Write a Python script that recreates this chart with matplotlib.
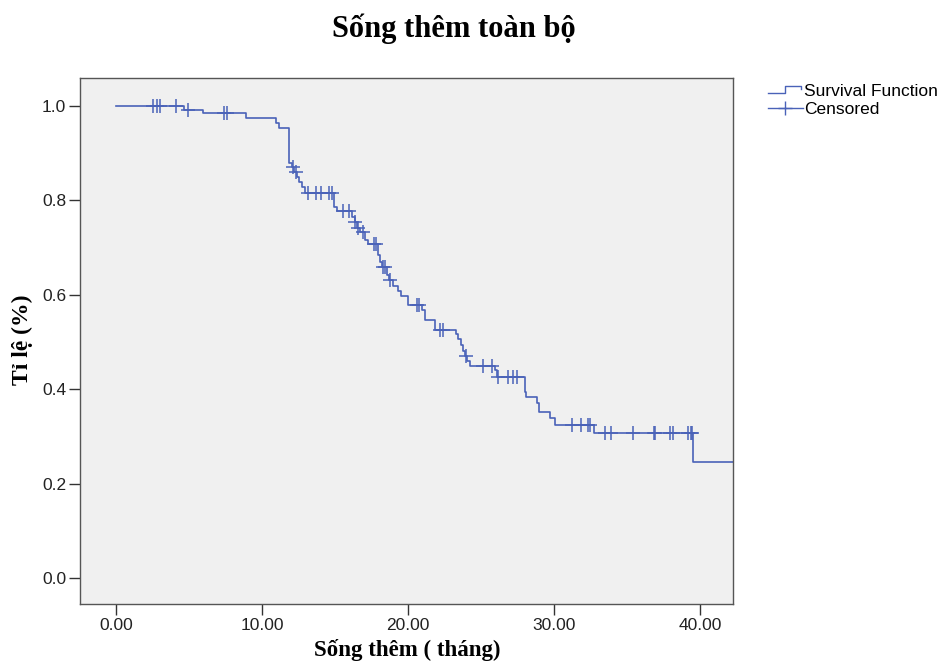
import numpy as np
import matplotlib
matplotlib.use("Agg")
import matplotlib.pyplot as plt
from matplotlib.legend_handler import HandlerBase
from matplotlib.lines import Line2D
from matplotlib.ticker import FormatStrFormatter

# Kaplan-Meier: event times (months) and survival after each event
event_t = [4.66, 5.96, 8.90, 10.96, 11.16, 11.85, 12.05, 12.19, 12.40, 12.53,
           12.74, 12.95, 14.93, 15.14, 16.16, 16.37, 16.51, 16.71, 17.05, 17.26,
           17.95, 18.08, 18.22, 18.56, 18.70, 18.97, 19.32, 19.52, 20.00, 20.96,
           21.16, 21.85, 23.29, 23.42, 23.63, 23.77, 23.90, 24.04, 24.25, 25.96,
           26.10, 28.01, 28.08, 28.84, 28.97, 29.73, 30.07, 32.74, 39.52]
event_s = [0.992, 0.985, 0.975, 0.964, 0.953, 0.879, 0.871, 0.860, 0.850, 0.839,
           0.828, 0.816, 0.786, 0.777, 0.765, 0.754, 0.742, 0.733, 0.716, 0.708,
           0.684, 0.669, 0.659, 0.642, 0.631, 0.619, 0.608, 0.597, 0.578, 0.568,
           0.547, 0.525, 0.517, 0.506, 0.494, 0.481, 0.470, 0.460, 0.449, 0.441,
           0.426, 0.394, 0.383, 0.371, 0.352, 0.339, 0.324, 0.307, 0.246]
# censored observations (months)
censor_t = [2.53, 2.81, 3.01, 4.11, 4.93, 7.40, 7.60,
            12.10, 12.30, 13.15, 13.70, 14.04, 14.59, 14.79,
            15.55, 15.96, 16.40, 16.60, 16.90, 17.67, 17.81,
            18.29, 18.42, 18.77, 20.62, 20.75, 22.19, 22.40,
            23.97, 25.14, 25.75, 26.13, 26.85, 27.19, 27.47,
            31.23, 31.85, 32.33, 32.47, 33.49, 33.90, 35.41,
            36.85, 36.92, 37.95, 38.15, 39.18, 39.38, 39.45]
t_end = 42.5

x_ticks = [0, 10, 20, 30, 40]
y_ticks = [0.0, 0.2, 0.4, 0.6, 0.8, 1.0]

line_col = '#4a62b8'

times = [0.0] + event_t + [t_end]
surv = [1.0] + event_s + [event_s[-1]]
s_full = np.array([1.0] + event_s)
censor_s = s_full[np.searchsorted(event_t, censor_t, side='right')]


class HandlerStep(HandlerBase):
    # little step icon like the SPSS legend
    def create_artists(self, legend, orig_handle, xdescent, ydescent,
                       width, height, fontsize, trans):
        x0, x1 = -xdescent, -xdescent + width
        y0, y1 = -ydescent + 0.25 * height, -ydescent + 0.85 * height
        xm = x0 + 0.5 * width
        ln = Line2D([x0, xm, xm, x1 - 1, x1 - 1], [y0, y0, y1, y1, y0 + 0.3 * height],
                    color=orig_handle.get_color(), lw=1.0)
        ln.set_transform(trans)
        return [ln]


fig = plt.figure(figsize=(9.46, 6.64), dpi=100)
ax = fig.add_axes([80 / 946, 60 / 664, 653 / 946, 526 / 664])
ax.set_facecolor('#f0f0f0')

surv_line, = ax.step(times, surv, where='post', color=line_col, lw=1.2)
ax.plot(censor_t, censor_s, ls='none', marker='+', ms=10, mew=1.1,
        color=line_col)

ax.set_xlim(-2.47, 42.26)
ax.set_ylim(-0.055, 1.059)
ax.set_xticks(x_ticks)
ax.set_yticks(y_ticks)
ax.xaxis.set_major_formatter(FormatStrFormatter('%.2f'))
ax.yaxis.set_major_formatter(FormatStrFormatter('%.1f'))
ax.tick_params(direction='out', length=8, width=1, color='#333333',
               labelsize=12.5, labelcolor='#222222')
ax.tick_params(axis='x', pad=2)
ax.tick_params(axis='y', pad=2)
for lab in ax.get_xticklabels() + ax.get_yticklabels():
    lab.set_fontfamily('Liberation Sans')
for sp in ax.spines.values():
    sp.set_color('#555555')
    sp.set_linewidth(1.0)

fig.text(407 / 946, 1 - 650 / 664, 'Sống thêm ( tháng)', ha='center', va='center',
         fontfamily='Liberation Serif', fontweight='bold', fontsize=16.5)
fig.text(22 / 946, 1 - 340 / 664, 'Tỉ lệ (%)', ha='center', va='center', rotation=90,
         fontfamily='Liberation Serif', fontweight='bold', fontsize=17)
fig.text(454 / 946, 1 - 29 / 664, 'Sống thêm toàn bộ', ha='center', va='center',
         fontfamily='Liberation Serif', fontweight='bold', fontsize=22)

cens_handle = Line2D([], [], color=line_col, lw=1.0, marker='+', ms=10, mew=1.0)
fig.legend([surv_line, cens_handle], ['Survival Function', 'Censored'],
           loc='upper left', bbox_to_anchor=(768 / 946, 1 - 84 / 664),
           frameon=False, prop={'family': 'Liberation Sans', 'size': 12.5},
           handlelength=2.0, handletextpad=0.1, labelspacing=0.15,
           borderpad=0, borderaxespad=0, handler_map={surv_line: HandlerStep()})

fig.savefig('out.png', dpi=100)
